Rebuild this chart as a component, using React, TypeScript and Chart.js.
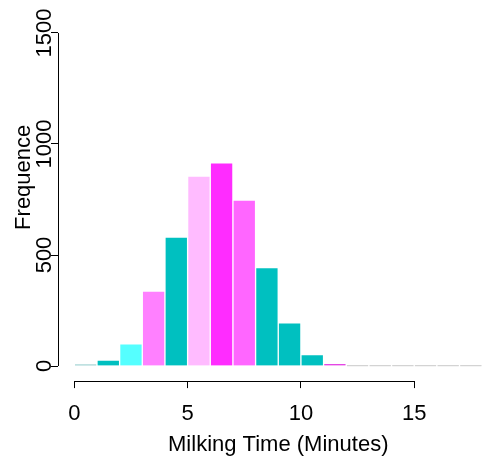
import React, { useEffect, useRef } from "react";
import { Chart, registerables } from "chart.js";

Chart.register(...registerables);

// Histogram bins (left edges, width 1 minute)
const binStarts = [0, 1, 2, 3, 4, 5, 6, 7, 8, 9, 10, 11, 12, 13, 14, 15, 16, 17];
const frequencies = [8, 27, 100, 338, 581, 855, 915, 747, 443, 195, 51, 12, 0, 0, 0, 0, 0, 0];
const barColors = [
  "#82C4C4", "#00C0C0", "#55FFFF", "#FF80FF", "#00C0C0", "#FFBBFF",
  "#FF2CFF", "#FF66FF", "#00C0C0", "#00C0C0", "#00C0C0", "#E447E4",
  "#D3D3D3", "#D3D3D3", "#D3D3D3", "#D3D3D3", "#D3D3D3", "#D3D3D3",
];
const xTickValues = [0, 5, 10, 15];
const yTickValues = [0, 500, 1000, 1500];
const xTitle = "Milking Time (Minutes)";
const yTitle = "Frequence";

const FAMILY = '"Liberation Sans", Arial, Helvetica, sans-serif';

const rAxesPlugin = {
  id: "rAxes",
  afterDraw(chart: any) {
    const { ctx, chartArea, scales } = chart;
    const xs = scales.x;
    const ys = scales.y;
    ctx.save();
    ctx.strokeStyle = "#000";
    ctx.lineWidth = 1;
    ctx.beginPath();
    const ax = Math.round(chartArea.left) + 0.5;
    ctx.moveTo(ax, ys.getPixelForValue(yTickValues[0]));
    ctx.lineTo(ax, ys.getPixelForValue(yTickValues[yTickValues.length - 1]));
    const ay = Math.round(chartArea.bottom) + 0.5;
    ctx.moveTo(xs.getPixelForValue(xTickValues[0]), ay);
    ctx.lineTo(xs.getPixelForValue(xTickValues[xTickValues.length - 1]), ay);
    ctx.stroke();
    ctx.restore();
  },
};

export default function App() {
  const ref = useRef<HTMLCanvasElement | null>(null);

  useEffect(() => {
    if (!ref.current) return;
    const chart = new Chart(ref.current, {
      type: "bar",
      data: {
        datasets: [
          {
            data: binStarts.map((b, i) => ({ x: b + 0.5, y: frequencies[i] })),
            backgroundColor: barColors,
            borderColor: "rgba(255,255,255,0.6)",
            borderWidth: 1,
            barPercentage: 1,
            categoryPercentage: 1,
            minBarLength: 2,
          } as any,
        ],
      },
      options: {
        animation: false,
        responsive: false,
        maintainAspectRatio: false,
        layout: { padding: { left: 0, top: 13.5, right: 11.5, bottom: 0 } },
        plugins: {
          legend: { display: false },
          tooltip: { enabled: false },
        },
        scales: {
          x: {
            type: "linear",
            position: "bottom",
            offset: false,
            min: -0.72,
            max: 18.72,
            afterBuildTicks: (s: any) => {
              s.ticks = xTickValues.map((v) => ({ value: v }));
            },
            afterFit: (s: any) => {
              s.height = 82.9;
            },
            border: { display: false },
            grid: {
              display: true,
              offset: false,
              drawOnChartArea: false,
              drawTicks: true,
              tickLength: 7,
              color: "#000",
              lineWidth: 1,
            },
            ticks: {
              font: { family: FAMILY, size: 22 },
              color: "#000",
              padding: 12.7,
              maxRotation: 0,
              minRotation: 0,
              autoSkip: false,
              callback: (v: any) => String(v),
            },
            title: {
              display: true,
              text: xTitle,
              color: "#000",
              font: { family: FAMILY, size: 22 },
              padding: { top: 0, bottom: 5.8 },
            },
          },
          y: {
            type: "linear",
            position: "left",
            min: -68,
            max: 1768,
            afterBuildTicks: (s: any) => {
              s.ticks = yTickValues.map((v) => ({ value: v }));
            },
            afterFit: (s: any) => {
              s.width = 58;
            },
            border: { display: false },
            grid: {
              display: true,
              drawOnChartArea: false,
              drawTicks: true,
              tickLength: 7,
              color: "#000",
              lineWidth: 1,
            },
            ticks: {
              font: { family: FAMILY, size: 22 },
              color: "#000",
              minRotation: 90,
              maxRotation: 90,
              crossAlign: "center",
              padding: -18.5,
              autoSkip: false,
              callback: (v: any) => String(v),
            },
            title: {
              display: true,
              text: yTitle,
              color: "#000",
              font: { family: FAMILY, size: 22 },
              padding: { top: 11, bottom: 0 },
            },
          },
        },
      } as any,
      plugins: [rAxesPlugin],
    });
    return () => chart.destroy();
  }, []);

  return (
    <div
      style={{
        position: "fixed",
        left: 0,
        top: 0,
        width: 489,
        height: 464,
        overflow: "hidden",
        background: "#fff",
      }}
    >
      <canvas
        ref={ref}
        width={510}
        height={504}
        style={{ position: "absolute", left: 0, top: -40, width: 510, height: 504 }}
      />
    </div>
  );
}
